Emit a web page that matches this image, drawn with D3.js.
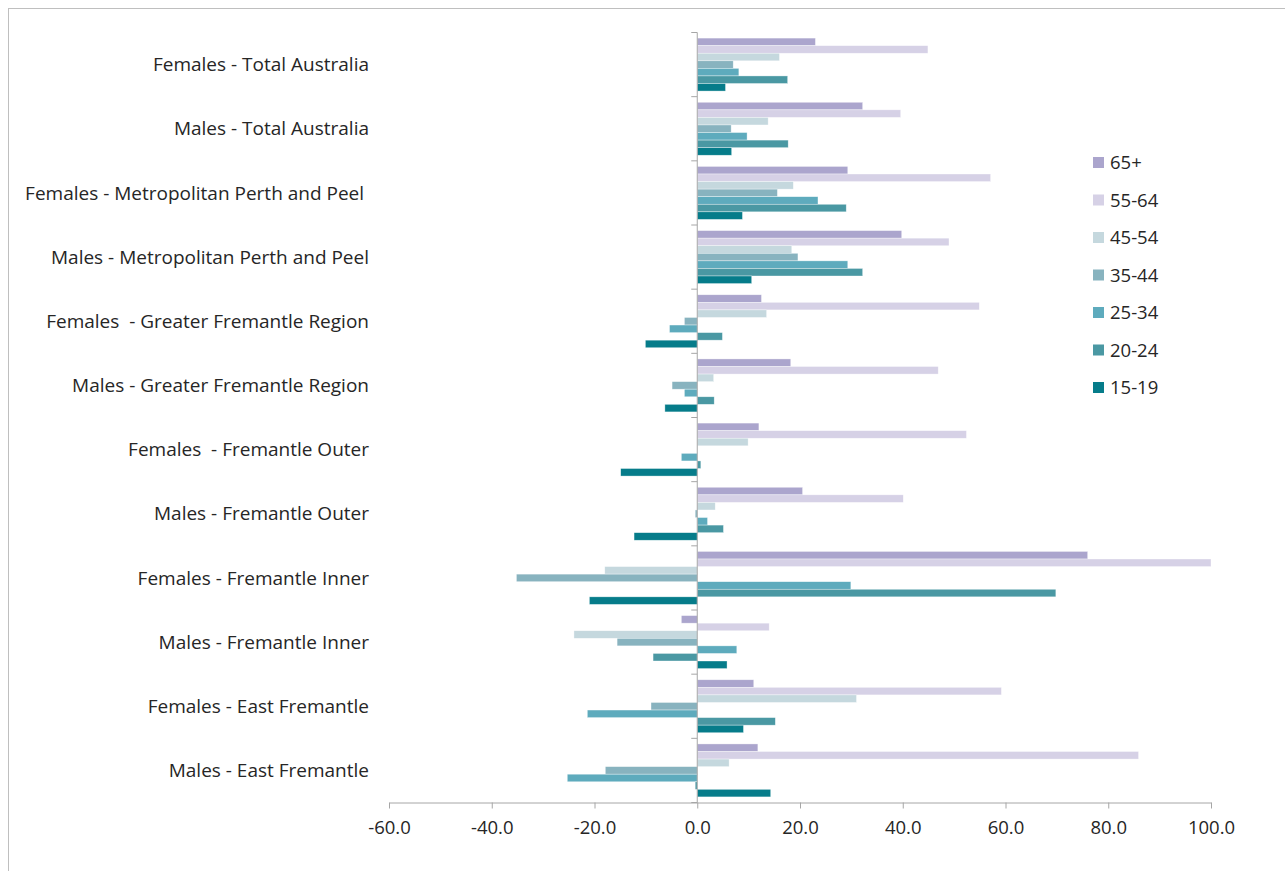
<!DOCTYPE html>
<html>
<head>
<meta charset="utf-8">
<script src="https://cdn.jsdelivr.net/npm/d3@7"></script>
<style>
    body { margin: 0; background: #fff; }
    text { font-family: "Open Sans", Lato, sans-serif; fill: #262626; white-space: pre; }
</style>
</head>
<body>
<div id="chart"></div>
<script>
//categories, top to bottom
const categories = [
    "Females - Total Australia",
    "Males - Total Australia",
    "Females - Metropolitan Perth and Peel ",
    "Males - Metropolitan Perth and Peel",
    "Females  - Greater Fremantle Region",
    "Males - Greater Fremantle Region",
    "Females  - Fremantle Outer",
    "Males - Fremantle Outer",
    "Females - Fremantle Inner",
    "Males - Fremantle Inner",
    "Females - East Fremantle",
    "Males - East Fremantle"
];

//age groups, top bar of each group first
const keys = ["65+", "55-64", "45-54", "35-44", "25-34", "20-24", "15-19"];

//one value per category for each age group
const v65plus = [23.0, 32.2, 29.3, 39.8, 12.5, 18.2, 12.0, 20.5, 76.0, -3.1, 11.0, 11.8];
const v55to64 = [44.9, 39.6, 57.1, 49.0, 54.9, 46.9, 52.4, 40.1, 100.0, 14.0, 59.2, 85.9];
const v45to54 = [16.0, 13.8, 18.7, 18.4, 13.5, 3.2, 9.9, 3.5, -18.0, -24.0, 31.0, 6.2];
const v35to44 = [7.0, 6.6, 15.6, 19.6, -2.5, -4.9, 0.0, -0.4, -35.2, -15.6, -9.0, -17.9];
const v25to34 = [8.1, 9.7, 23.5, 29.3, -5.4, -2.5, -3.1, 2.0, 29.9, 7.7, -21.4, -25.3];
const v20to24 = [17.6, 17.7, 29.0, 32.2, 4.9, 3.3, 0.7, 5.1, 69.8, -8.6, 15.2, -0.4];
const v15to19 = [5.5, 6.7, 8.8, 10.6, -10.1, -6.3, -14.9, -12.3, -21.0, 5.8, 9.0, 14.3];

const xTicks = [-60, -40, -20, 0, 20, 40, 60, 80, 100];

const colors = ["#aba5cd", "#d6d1e6", "#c5d8de", "#88b3bf", "#5eabbd", "#4a98a3", "#067c8a"];

const series = [v65plus, v55to64, v45to54, v35to44, v25to34, v20to24, v15to19];

//build a flat table for the bars
const rows = [];
categories.forEach((c, i) => {
    keys.forEach((k, j) => {
        rows.push({ category: c, key: k, value: series[j][i] });
    });
});

const width = 1285;
const height = 871;
const margin = { top: 32.5, left: 389, right: 74, bottom: 68.5 };

const svg = d3.select("#chart")
    .append("svg")
    .attr("width", width)
    .attr("height", height);

//outer chart border
svg.append("rect")
    .attr("x", 8.5)
    .attr("y", 8.5)
    .attr("width", width)
    .attr("height", height)
    .attr("fill", "none")
    .attr("stroke", "#bfbfbf");

const colorScale = d3.scaleOrdinal().domain(keys).range(colors);

const xScale = d3.scaleLinear()
    .domain([-60, 100])
    .range([margin.left, width - margin.right]);

const yScale = d3.scaleBand()
    .domain(categories)
    .range([margin.top, height - margin.bottom])
    .padding(0);

const ySub = d3.scaleBand()
    .domain(keys)
    .range([0, yScale.bandwidth()])
    .paddingInner(0)
    .paddingOuter(0.74);

//bars
svg.selectAll(".bar")
    .data(rows)
    .enter()
    .append("rect")
    .attr("class", "bar")
    .attr("x", d => xScale(Math.min(0, d.value)))
    .attr("y", d => yScale(d.category) + ySub(d.key))
    .attr("width", d => Math.abs(xScale(d.value) - xScale(0)))
    .attr("height", ySub.bandwidth())
    .attr("fill", d => colorScale(d.key))
    .attr("stroke", "#ffffff")
    .attr("stroke-opacity", 0.6)
    .attr("stroke-width", 0.6);

//x axis (plain hyphen for negatives, like the original)
const xAxis = svg.append("g")
    .attr("class", "axis")
    .attr("transform", `translate(0,${height - margin.bottom})`)
    .call(d3.axisBottom(xScale).tickValues(xTicks).tickFormat(d => d.toFixed(1)).tickSize(6).tickSizeOuter(0));

xAxis.select(".domain").attr("stroke", "#a6a6a6");
xAxis.selectAll(".tick line").attr("stroke", "#a6a6a6");
xAxis.selectAll(".tick text")
    .attr("dy", "1.2em")
    .style("font-size", "18.5px")
    .style("font-family", "'Open Sans', sans-serif")
    .attr("fill", "#262626");

//y axis sits on zero
const yAxis = svg.append("g")
    .attr("class", "axis");

yAxis.append("line")
    .attr("x1", xScale(0))
    .attr("x2", xScale(0))
    .attr("y1", yScale.range()[0])
    .attr("y2", yScale.range()[1])
    .attr("stroke", "#a6a6a6");

//ticks between the categories
const boundaries = categories.map(c => yScale(c)).concat([yScale.range()[1]]);
yAxis.selectAll(".ytick")
    .data(boundaries)
    .enter()
    .append("line")
    .attr("class", "ytick")
    .attr("x1", xScale(0) - 6)
    .attr("x2", xScale(0))
    .attr("y1", d => d)
    .attr("y2", d => d)
    .attr("stroke", "#a6a6a6");

//category labels
svg.selectAll(".catLabel")
    .data(categories)
    .enter()
    .append("text")
    .attr("class", "catLabel")
    .attr("x", 369)
    .attr("y", d => yScale(d) + yScale.bandwidth() / 2)
    .attr("dy", "0.35em")
    .attr("text-anchor", "end")
    .style("font-size", "19px")
    .text(d => d);

//legend
const legend = svg.append("g")
    .attr("transform", "translate(1093,157)");

legend.selectAll("rect")
    .data(keys)
    .enter()
    .append("rect")
    .attr("x", 0)
    .attr("y", (d, i) => i * 37.5)
    .attr("width", 11)
    .attr("height", 11)
    .attr("fill", d => colorScale(d));

legend.selectAll("text")
    .data(keys)
    .enter()
    .append("text")
    .attr("x", 17)
    .attr("y", (d, i) => i * 37.5 + 6)
    .attr("dy", "0.35em")
    .style("font-size", "18.5px")
    .text(d => d);
</script>
</body>
</html>
